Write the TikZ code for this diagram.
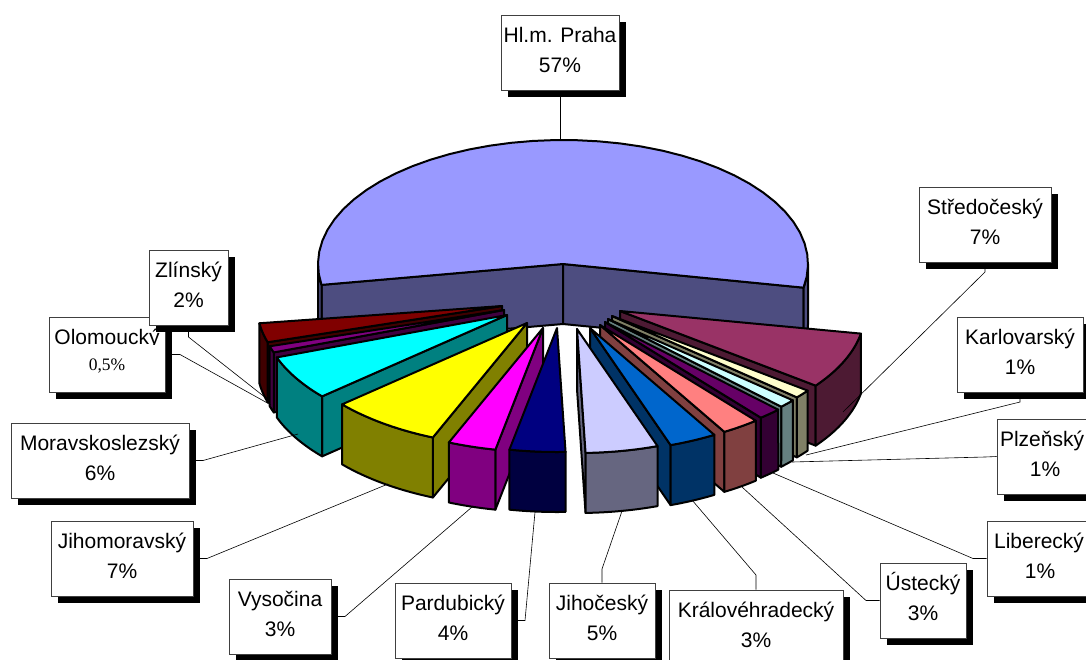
\documentclass[tikz,border=0pt]{standalone}
\usepackage{fontspec}
\setmainfont{Liberation Sans}
\newfontfamily\serifnum{Liberation Serif}
\usetikzlibrary{shadows}
\definecolor{prahaTop}{HTML}{9999FF}\definecolor{prahaSide}{HTML}{4D4D80}
\definecolor{stTop}{HTML}{993366}\definecolor{stSide}{HTML}{4D1A33}
\definecolor{kaTop}{HTML}{FFFFCC}\definecolor{kaSide}{HTML}{808066}
\definecolor{plTop}{HTML}{CCFFFF}\definecolor{plSide}{HTML}{668080}
\definecolor{liTop}{HTML}{660066}\definecolor{liSide}{HTML}{330033}
\definecolor{usTop}{HTML}{FF8080}\definecolor{usSide}{HTML}{804040}
\definecolor{khTop}{HTML}{0066CC}\definecolor{khSide}{HTML}{003366}
\definecolor{jcTop}{HTML}{CCCCFF}\definecolor{jcSide}{HTML}{666680}
\definecolor{paTop}{HTML}{000080}\definecolor{paSide}{HTML}{000040}
\definecolor{vyTop}{HTML}{FF00FF}\definecolor{vySide}{HTML}{800080}
\definecolor{jmTop}{HTML}{FFFF00}\definecolor{jmSide}{HTML}{808000}
\definecolor{msTop}{HTML}{00FFFF}\definecolor{msSide}{HTML}{008080}
\definecolor{olTop}{HTML}{800080}\definecolor{olSide}{HTML}{400040}
\definecolor{zlTop}{HTML}{800000}\definecolor{zlSide}{HTML}{400000}
\def\pieA{245}\def\pieB{124}\def\pieH{60}
% #1 apex x, #2 apex y, #3 start angle, #4 end angle, #5 colour
\newcommand\sliceTop[5]{\filldraw[pie, fill=#5] (#1,#2) -- plot[domain=#3:#4, samples=40] ({#1+\pieA*cos(\x)},{#2-\pieB*sin(\x)}) -- cycle;}
\newcommand\sliceOuter[5]{\filldraw[pie, fill=#5] plot[domain=#3:#4, samples=40] ({#1+\pieA*cos(\x)},{#2-\pieB*sin(\x)}) -- plot[domain=#4:#3, samples=40] ({#1+\pieA*cos(\x)},{#2-\pieB*sin(\x)+\pieH}) -- cycle;}
\newcommand\sliceRad[4]{\filldraw[pie, fill=#4] (#1,#2) -- ({#1+\pieA*cos(#3)},{#2-\pieB*sin(#3)}) -- ({#1+\pieA*cos(#3)},{#2-\pieB*sin(#3)+\pieH}) -- (#1,{#2+\pieH}) -- cycle;}
\begin{document}
\begin{tikzpicture}[x=1pt,y=-1pt,
  pie/.style={draw=black, line width=2pt, line join=round},
  lbox/.style={draw=black!75, fill=white, line width=0.8pt, inner sep=0pt, minimum height=75pt,
    general shadow={fill=black, shadow xshift=6.5pt, shadow yshift=-6.5pt}},
  ltext/.style={anchor=base, inner sep=0pt, font=\fontsize{21}{25}\selectfont},
  leader/.style={draw=black, line width=0.6pt}]
\useasboundingbox (0,0) rectangle (1086,659);
% ---------- Praha (back slice)
\sliceRad{563}{264}{189.7}{prahaSide}
\sliceRad{563}{264}{-11}{prahaSide}
\sliceOuter{563}{264}{180}{189.7}{prahaSide}
\sliceOuter{563}{264}{-11}{0}{prahaSide}
\sliceTop{563}{264}{-11}{189.7}{prahaTop}
% ---------- right side slices, back to front
\sliceRad{620}{311}{-37}{stSide}\sliceOuter{620}{311}{-37}{-10.5}{stSide}\sliceTop{620}{311}{-37}{-10.5}{stTop}
\sliceRad{612}{316}{-41}{kaSide}\sliceOuter{612}{316}{-41}{-37}{kaSide}\sliceTop{612}{316}{-41}{-37}{kaTop}
\sliceRad{608}{319}{-45}{plSide}\sliceOuter{608}{319}{-45}{-41}{plSide}\sliceTop{608}{319}{-45}{-41}{plTop}
\sliceRad{605}{322}{-50.5}{liSide}\sliceOuter{605}{322}{-50.5}{-45}{liSide}\sliceTop{605}{322}{-50.5}{-45}{liTop}
\sliceRad{600}{325}{-59.5}{usSide}\sliceOuter{600}{325}{-59.5}{-50.5}{usSide}\sliceTop{600}{325}{-59.5}{-50.5}{usTop}
\sliceRad{590}{328}{-70.8}{khSide}\sliceOuter{590}{328}{-70.8}{-59.5}{khSide}\sliceTop{590}{328}{-70.8}{-59.5}{khTop}
\sliceRad{577}{329}{-88}{jcSide}\sliceOuter{577}{329}{-88}{-70.8}{jcSide}\sliceTop{577}{329}{-88}{-70.8}{jcTop}
% ---------- left side slices, back to front
\sliceRad{502}{306}{-163}{zlSide}\sliceOuter{502}{306}{-172}{-163}{zlSide}\sliceTop{502}{306}{-172}{-163}{zlTop}
\sliceRad{504}{310}{-160}{olSide}\sliceOuter{504}{310}{-163}{-160}{olSide}\sliceTop{504}{310}{-163}{-160}{olTop}
\sliceRad{507}{315}{-139}{msSide}\sliceOuter{507}{315}{-160}{-139}{msSide}\sliceTop{507}{315}{-160}{-139}{msTop}
\sliceRad{527}{323}{-112.6}{jmSide}\sliceOuter{527}{323}{-139}{-112.6}{jmSide}\sliceTop{527}{323}{-139}{-112.6}{jmTop}
\sliceRad{543}{328}{-101.2}{vySide}\sliceOuter{543}{328}{-112.6}{-101.2}{vySide}\sliceTop{543}{328}{-112.6}{-101.2}{vyTop}
\sliceOuter{557}{328}{-101.2}{-88}{paSide}\sliceTop{557}{328}{-101.2}{-88}{paTop}
% ---------- label boxes (positions)
\path
  (560,52.5)   node[lbox, minimum width=118pt] (praha) {}
  (985,224.5)  node[lbox, minimum width=132pt] (stred) {}
  (1020,354.5) node[lbox, minimum width=126pt] (kar) {}
  (1045,456.5) node[lbox, minimum width=96pt]  (plz) {}
  (1040,558.5) node[lbox, minimum width=106pt] (lib) {}
  (923,600.5)  node[lbox, minimum width=86pt]  (ust) {}
  (756,627.5)  node[lbox, minimum width=174pt] (kh) {}
  (602,620.5)  node[lbox, minimum width=106pt] (jc) {}
  (453,620.5)  node[lbox, minimum width=116pt] (pa) {}
  (280,616.5)  node[lbox, minimum width=102pt] (vy) {}
  (122,558.5)  node[lbox, minimum width=142pt] (jm) {}
  (100,460.5)  node[lbox, minimum width=178pt] (ms) {};
% ---------- leader lines
\coordinate (praha-e) at (560,140);
\coordinate (stred-b) at (985,272); \coordinate (stred-e) at (843,412);
\coordinate (kar-b) at (1020,402);  \coordinate (kar-e) at (806,455);
\coordinate (plz-b) at (985,457);   \coordinate (plz-e) at (792,462);
\coordinate (lib-b) at (973,558.5); \coordinate (lib-e) at (773,473);
\coordinate (ust-b) at (866,600.5); \coordinate (ust-e) at (742,487);
\coordinate (kh-b) at (756,575);    \coordinate (kh-e) at (692,500);
\coordinate (jc-b) at (602,569);    \coordinate (jc-e) at (622,511);
\coordinate (pa-b) at (525,620.5);  \coordinate (pa-e) at (535,512);
\coordinate (vy-b) at (345,616.5);  \coordinate (vy-e) at (472,507);
\coordinate (jm-b) at (207,558.5);  \coordinate (jm-e) at (388,484);
\coordinate (ms-b) at (203,460.5);  \coordinate (ms-e) at (298,434);
\coordinate (ol-b) at (180,354.5);  \coordinate (ol-e) at (271,405);
\coordinate (zl-b) at (188.5,337);  \coordinate (zl-e) at (266,398);
\draw[leader] (praha.south) -- (praha-e);
\draw[leader] (stred.south) -- (stred-b) -- (stred-e);
\draw[leader] (kar.south) -- (kar-b) -- (kar-e);
\draw[leader] (plz.west) -- (plz-b) -- (plz-e);
\draw[leader] (lib.west) -- (lib-b) -- (lib-e);
\draw[leader] (ust.west) -- (ust-b) -- (ust-e);
\draw[leader] (kh.north) -- (kh-b) -- (kh-e);
\draw[leader] (jc.north) -- (jc-b) -- (jc-e);
\draw[leader] (pa.east) -- (pa-b) -- (pa-e);
\draw[leader] (vy.east) -- (vy-b) -- (vy-e);
\draw[leader] (jm.east) -- (jm-b) -- (jm-e);
\draw[leader] (ms.east) -- (ms-b) -- (ms-e);
\draw[leader] (165,354.5) -- (ol-b) -- (ol-e);
\draw[leader] (188.5,325) -- (zl-b) -- (zl-e);
% ---------- redraw boxes on top of leaders
\path
  (560,52.5)   node[lbox, minimum width=118pt] (praha2) {}
  (985,224.5)  node[lbox, minimum width=132pt] (stred2) {}
  (1020,354.5) node[lbox, minimum width=126pt] (kar2) {}
  (1045,456.5) node[lbox, minimum width=96pt]  (plz2) {}
  (1040,558.5) node[lbox, minimum width=106pt] (lib2) {}
  (923,600.5)  node[lbox, minimum width=86pt]  (ust2) {}
  (756,627.5)  node[lbox, minimum width=174pt] (kh2) {}
  (602,620.5)  node[lbox, minimum width=106pt] (jc2) {}
  (453,620.5)  node[lbox, minimum width=116pt] (pa2) {}
  (280,616.5)  node[lbox, minimum width=102pt] (vy2) {}
  (122,558.5)  node[lbox, minimum width=142pt] (jm2) {}
  (100,460.5)  node[lbox, minimum width=178pt] (ms2) {};
% ---------- texts
\node[ltext] (praha-t1) at (560,42) {Hl.m. Praha};  \node[ltext] (praha-t2) at (560,72) {57\%};
\node[ltext] (stred-t1) at (985,214) {Středočeský}; \node[ltext] (stred-t2) at (985,244) {7\%};
\node[ltext] (kar-t1) at (1020,344) {Karlovarský};  \node[ltext] (kar-t2) at (1020,374) {1\%};
\node[ltext] (plz-t1) at (1042,446) {Plzeňský};     \node[ltext] (plz-t2) at (1045,476) {1\%};
\node[ltext] (lib-t1) at (1039,548) {Liberecký};    \node[ltext] (lib-t2) at (1040,578) {1\%};
\node[ltext] (ust-t1) at (923,590) {Ústecký};       \node[ltext] (ust-t2) at (923,620) {3\%};
\node[ltext] (kh-t1) at (756,617) {Královéhradecký};\node[ltext] (kh-t2) at (756,647) {3\%};
\node[ltext] (jc-t1) at (602,610) {Jihočeský};      \node[ltext] (jc-t2) at (602,640) {5\%};
\node[ltext] (pa-t1) at (453,610) {Pardubický};     \node[ltext] (pa-t2) at (453,640) {4\%};
\node[ltext] (vy-t1) at (280,606) {Vysočina};       \node[ltext] (vy-t2) at (280,636) {3\%};
\node[ltext] (jm-t1) at (122,548) {Jihomoravský};   \node[ltext] (jm-t2) at (122,578) {7\%};
\node[ltext] (ms-t1) at (100,450) {Moravskoslezský};\node[ltext] (ms-t2) at (100,480) {6\%};
% ---------- Olomoucky box (text clipped) and Zlinsky box over it
\node[lbox, minimum width=116pt] (ol) at (107,354.5) {};
\begin{scope}
  \clip (50,318) rectangle (164,344.6);
  \node[ltext] (ol-t1) at (107,344) {Olomoucký};
\end{scope}
\node[ltext, font=\serifnum\fontsize{17.5}{20}\selectfont] (ol-t2) at (107,370) {0,5\%};
\node[lbox, minimum width=79pt] (zl) at (188.5,287.5) {};
\node[ltext] (zl-t1) at (188.5,277) {Zlínský}; \node[ltext] (zl-t2) at (188.5,307) {2\%};
\end{tikzpicture}
\end{document}
